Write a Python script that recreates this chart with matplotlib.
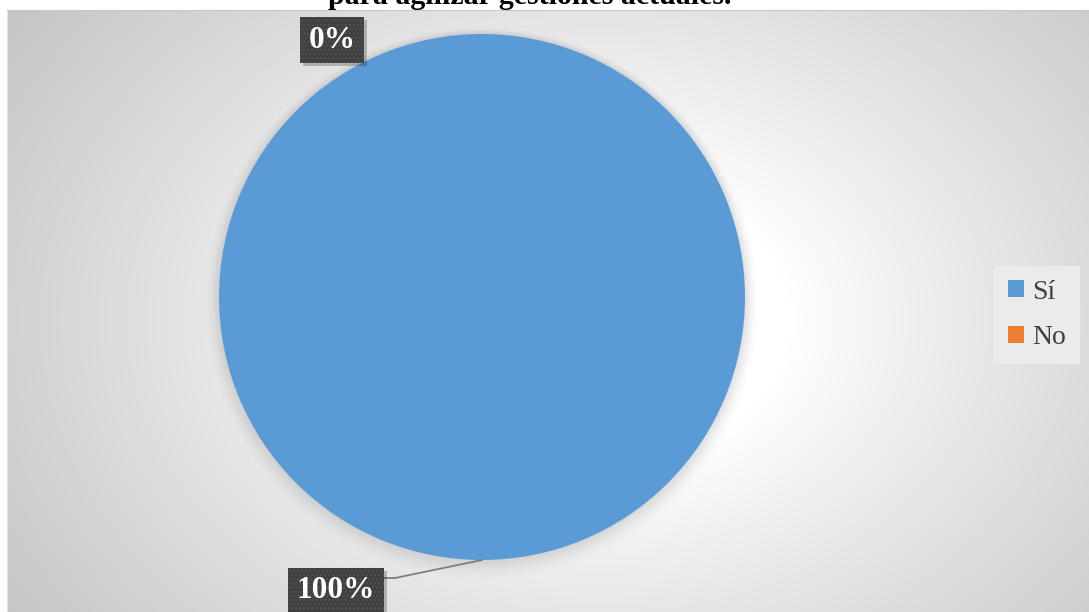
import numpy as np
import matplotlib
matplotlib.use("Agg")
import matplotlib.pyplot as plt
from matplotlib.patches import Patch, Circle, Rectangle
from matplotlib.transforms import IdentityTransform

# Survey answers
categories = ["Sí", "No"]
values = [100, 0]
colors = ["#5b9bd5", "#ed7d31"]
title = "para agilizar gestiones actuales."

W, H = 1089, 612
fig = plt.figure(figsize=(W / 100, H / 100), dpi=100, facecolor="white")

# Plot area with a soft radial gradient
left_px, top_px = 7, 10
bg = fig.add_axes([left_px / W, 0, 1 - left_px / W, 1 - top_px / H])
gw, gh = W - left_px, H - top_px
yy, xx = np.mgrid[0:gh, 0:gw]
cx, cy = 600 - left_px, 320 - top_px
d = np.sqrt(((xx - cx) / 1.0) ** 2 + ((yy - cy) / 0.75) ** 2)
r0, r1 = 190.0, 700.0
t = np.clip((d - r0) / (r1 - r0), 0, 1) ** 0.9
gray = 1.0 - 0.22 * t
img = np.dstack([gray, gray, gray])
bg.imshow(img, aspect="auto", interpolation="bilinear")
bg.set_xticks([]); bg.set_yticks([])
for s in bg.spines.values():
    s.set_visible(False)
bg.spines["top"].set_visible(True)
bg.spines["left"].set_visible(True)
bg.spines["top"].set_color("#c8c8c8")
bg.spines["left"].set_color("#e4e4e4")

# Pie axes: one data unit = pie radius in pixels
R = 263.0
pcx, pcy = 482.0, 297.0
ax = fig.add_axes([0, 0, 1, 1])
ax.set_facecolor("none")

def px(x, y):
    return ((x - pcx) / R, (pcy - y) / R)

# soft shadow around the pie
for k, a in zip(range(1, 9), np.linspace(0.045, 0.01, 8)):
    ax.add_patch(Circle((0.0, -0.003 * k), 1.0 + 0.006 * k, color="#808080",
                        alpha=a, lw=0, zorder=0))

wedges, _ = ax.pie(values, colors=colors, startangle=90, counterclock=False,
                   wedgeprops=dict(linewidth=0), radius=1.0)
ax.set_xlim(-pcx / R, (W - pcx) / R)
ax.set_ylim(-(H - pcy) / R, pcy / R)
ax.set_aspect("auto")
ax.set_axis_off()

total = sum(values)
label_pos = [(336, 591), (332, 40)]
labels = []
for w, v, (lx, ly) in zip(wedges, values, label_pos):
    txt = f"{v / total * 100:.0f}%"
    ang = np.deg2rad((w.theta1 + w.theta2) / 2)
    tx, ty = px(lx, ly)
    lab = ax.text(tx, ty, txt, ha="center", va="center", fontsize=22.5,
                  color="white", family="Liberation Serif", fontweight="bold",
                  bbox=dict(boxstyle="square,pad=0.28", facecolor="#404040",
                            edgecolor="#525252", linewidth=0, hatch="...."),
                  zorder=5)
    labels.append(lab)
    if v > 0:
        ex, ey = np.cos(ang), np.sin(ang)
        kx, ky = px(395, 578)
        bx, by = px(385, 578)
        ax.plot([ex, kx, bx], [ey, ky, by], color="#7f7f7f", lw=1.3, zorder=3)

# Drop shadows behind the label boxes
fig.canvas.draw()
renderer = fig.canvas.get_renderer()
for lab in labels:
    bb = lab.get_bbox_patch().get_window_extent(renderer)
    ax.add_artist(Rectangle((bb.x0 + 3, bb.y0 - 3), bb.width, bb.height,
                            transform=IdentityTransform(), facecolor="black",
                            alpha=0.22, lw=0, zorder=4))

# Legend
handles = [Patch(facecolor=c, edgecolor="none") for c in colors]
leg = fig.legend(handles, categories, loc="center",
                 bbox_to_anchor=(1037 / W, 1 - 315 / H),
                 prop=dict(family="Liberation Serif", size=20),
                 handlelength=0.55, handleheight=0.55, handletextpad=0.3,
                 labelspacing=0.75, borderpad=0.5, frameon=True, fancybox=False)
leg.get_frame().set_facecolor("#ebebeb")
leg.get_frame().set_edgecolor("none")
leg.get_frame().set_alpha(1)
for t_ in leg.get_texts():
    t_.set_color("#404040")

# Title, partly above the top edge
fig.text(530 / W, 1 - 4 / H, title, ha="center", va="baseline", fontsize=21.5,
         family="Liberation Serif", fontweight="bold", color="black")

fig.savefig("out.png", dpi=100, facecolor="white")
